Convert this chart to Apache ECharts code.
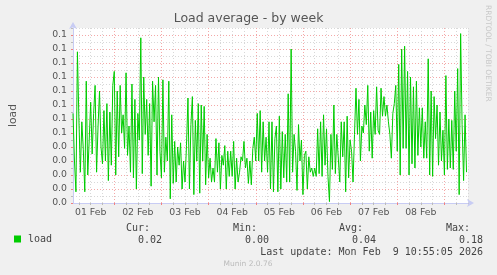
<!DOCTYPE html>
<html><head><meta charset="utf-8">
<script src="https://cdn.jsdelivr.net/npm/echarts@6/dist/echarts.min.js"></script>
<style>html,body{margin:0;padding:0;background:#f0f0f0;}#c{width:497px;height:275px;}</style>
</head><body><div id="c"></div>
<script>
// ---- data (hours are counted from 01 Feb 00:00) ----
const chartTitle = 'Load average - by week';
const seriesName = 'load';
const startHour = 3;
const endHour = 204;
const stepHours = 0.75;

const loadPart1 = [0.064,0.030,0.008,0.108,0.060,0.022,0.058,0.038,0.008,0.087,0.020,0.045,0.072,0.035,0.064,0.084,0.022,0.055,0.080,0.040,0.028,0.066,0.030,0.071,0.016,0.065,0.027,0.084,0.094,0.020,0.080,0.033,0.084,0.050,0.063,0.039,0.093,0.034,0.055,0.022,0.085,0.018,0.074,0.010,0.064];
const loadPart2 = [0.045,0.118,0.021,0.090,0.049,0.074,0.034,0.071,0.012,0.087,0.058,0.084,0.020,0.090,0.037,0.018,0.088,0.022,0.047,0.030,0.087,0.003,0.063,0.014,0.044,0.015,0.040,0.027,0.043,0.010,0.030,0.015,0.041,0.075,0.010,0.056,0.076,0.006,0.059,0.030,0.071,0.007,0.070,0.030,0.069];
const loadPart3 = [0.013,0.049,0.018,0.032,0.015,0.025,0.015,0.046,0.022,0.043,0.010,0.034,0.027,0.041,0.010,0.037,0.019,0.037,0.019,0.044,0.010,0.032,0.015,0.022,0.033,0.030,0.044,0.025,0.032,0.014,0.030,0.013,0.039,0.047,0.030,0.064,0.030,0.066,0.022,0.058,0.030,0.047,0.022,0.058,0.010];
const loadPart4 = [0.058,0.008,0.046,0.055,0.008,0.062,0.010,0.051,0.018,0.049,0.015,0.078,0.015,0.110,0.022,0.049,0.037,0.009,0.056,0.030,0.045,0.006,0.034,0.037,0.010,0.033,0.022,0.025,0.019,0.025,0.019,0.053,0.021,0.058,0.019,0.063,0.027,0.053,0.019,0.001,0.049,0.024,0.070,0.021,0.049];
const loadPart5 = [0.049,0.015,0.058,0.033,0.058,0.008,0.062,0.018,0.045,0.037,0.015,0.049,0.082,0.049,0.074,0.030,0.055,0.050,0.070,0.056,0.084,0.037,0.065,0.032,0.066,0.049,0.083,0.052,0.049,0.082,0.062,0.076,0.062,0.070,0.058,0.049,0.032,0.064,0.071,0.084,0.037,0.099,0.020,0.110,0.039];
const loadPart6 = [0.112,0.039,0.094,0.020,0.090,0.028,0.083,0.025,0.087,0.034,0.068,0.040,0.068,0.032,0.058,0.032,0.103,0.020,0.080,0.019,0.076,0.046,0.070,0.027,0.065,0.030,0.052,0.020,0.091,0.024,0.060,0.025,0.059,0.024,0.080,0.037,0.096,0.006,0.121,0.056,0.016,0.063,0.022];

const dayLabels = ['01 Feb','02 Feb','03 Feb','04 Feb','05 Feb','06 Feb','07 Feb','08 Feb'];
const yTickValues = [0,0.01,0.02,0.03,0.04,0.05,0.06,0.07,0.08,0.09,0.10,0.11,0.12];
const yTickLabels = ['0.0','0.0','0.0','0.0','0.0','0.1','0.1','0.1','0.1','0.1','0.1','0.1','0.1'];
const yMinorValues = [0.005,0.015,0.025,0.035,0.045,0.055,0.065,0.075,0.085,0.095,0.105,0.115,0.125];
const yMax = 0.125;

const legendCur = '0.02', legendMin = '0.00', legendAvg = '0.04', legendMax = '0.18';
const lastUpdate = 'Last update: Mon Feb  9 10:55:05 2026';
const footer = 'Munin 2.0.76';
const watermark = 'RRDTOOL / TOBI OETIKER';

// ---- build ----
const loadValues = [].concat(loadPart1, loadPart2, loadPart3, loadPart4, loadPart5, loadPart6);
const seriesData = loadValues.map((v, i) => [startHour + i * stepHours, v]);
const dayLabelHours = dayLabels.map((d, i) => 12 + 24 * i);
const majorHours = [], minorHours = [];
for (let h = 6; h <= endHour; h += 6) { if (h % 24 === 0) majorHours.push(h); else minorHours.push(h); }

const MAJOR = '#f4a8a8', MINOR = '#d8d8d8', AXIS = '#c8ccf4', TXT = '#555';
const FONT = 'DejaVu Sans', MONO = 'DejaVu Sans Mono';

const chart = echarts.init(document.getElementById('c'), null, {renderer: 'canvas'});
chart.setOption({
  animation: false,
  backgroundColor: '#f0f0f0',
  title: { text: chartTitle, left: 'center', top: 12, padding: 0,
    textStyle: { fontFamily: FONT, fontSize: 12.5, fontWeight: 'normal', color: TXT } },
  legend: { data: [{name: seriesName, icon: 'rect'}], left: 14, top: 234, padding: 0, itemWidth: 7, itemHeight: 7,
    textStyle: { fontFamily: MONO, fontSize: 10, color: '#444', padding: [0,0,0,2] } },
  grid: { left: 66, top: 28, width: 402, height: 175, show: true, backgroundColor: '#ffffff', borderWidth: 0 },
  xAxis: [
    { type: 'value', min: startHour, max: endHour, position: 'bottom',
      axisLine: { show: true, onZero: false, symbol: ['none','arrow'], symbolSize: [6, 7], symbolOffset: [0, 6], lineStyle: { color: AXIS, width: 1 } },
      axisTick: { show: true, customValues: majorHours, length: 2, lineStyle: { color: '#f08080' } },
      splitLine: { show: true, lineStyle: { color: MAJOR, type: [1, 2], width: 1 } },
      axisLabel: { customValues: dayLabelHours, margin: 5, fontFamily: FONT, fontSize: 9.33, color: TXT,
        formatter: v => dayLabels[Math.round((v - 12) / 24)] } },
    { type: 'value', min: startHour, max: endHour, position: 'bottom',
      axisLine: { show: false, onZero: false },
      axisTick: { show: true, customValues: minorHours, length: 2, lineStyle: { color: '#bbb' } },
      splitLine: { show: true, lineStyle: { color: MINOR, type: [1, 2], width: 1 } },
      axisLabel: { show: false } }
  ],
  yAxis: [
    { type: 'value', min: 0, max: yMax, position: 'left',
      name: seriesName, nameLocation: 'middle', nameRotate: 90, nameGap: 54,
      nameTextStyle: { fontFamily: FONT, fontSize: 10.7, color: TXT },
      axisLine: { show: true, onZero: false, symbol: ['none','arrow'], symbolSize: [6, 7], symbolOffset: [0, 6], lineStyle: { color: AXIS, width: 1 } },
      axisTick: { show: true, customValues: yTickValues, length: 2, lineStyle: { color: '#f08080' } },
      splitLine: { show: true, lineStyle: { color: MAJOR, type: [1, 2], width: 1 } },
      axisLabel: { customValues: yTickValues, margin: 6, fontFamily: FONT, fontSize: 9.33, color: TXT,
        formatter: v => yTickLabels[Math.round(v * 100)] } },
    { type: 'value', min: 0, max: yMax, position: 'left',
      axisLine: { show: false, onZero: false },
      axisTick: { show: true, customValues: yMinorValues, length: 2, lineStyle: { color: '#bbb' } },
      splitLine: { show: true, lineStyle: { color: MINOR, type: [1, 2], width: 1 } },
      axisLabel: { show: false } }
  ],
  series: [{ name: seriesName, type: 'line', xAxisIndex: 0, yAxisIndex: 0, data: seriesData,
    symbol: 'none', showSymbol: false, z: 5,
    lineStyle: { color: '#00cc00', width: 1 }, itemStyle: { color: '#00cc00' } }],
  graphic: [
    { type: 'text', x: 150, y: 228, style: { text: 'Cur:', font: '10px "DejaVu Sans Mono"', fill: '#444', textAlign: 'right', textVerticalAlign: 'middle' } },
    { type: 'text', x: 162, y: 240, style: { text: legendCur, font: '10px "DejaVu Sans Mono"', fill: '#444', textAlign: 'right', textVerticalAlign: 'middle' } },
    { type: 'text', x: 257, y: 228, style: { text: 'Min:', font: '10px "DejaVu Sans Mono"', fill: '#444', textAlign: 'right', textVerticalAlign: 'middle' } },
    { type: 'text', x: 269, y: 240, style: { text: legendMin, font: '10px "DejaVu Sans Mono"', fill: '#444', textAlign: 'right', textVerticalAlign: 'middle' } },
    { type: 'text', x: 363, y: 228, style: { text: 'Avg:', font: '10px "DejaVu Sans Mono"', fill: '#444', textAlign: 'right', textVerticalAlign: 'middle' } },
    { type: 'text', x: 376, y: 240, style: { text: legendAvg, font: '10px "DejaVu Sans Mono"', fill: '#444', textAlign: 'right', textVerticalAlign: 'middle' } },
    { type: 'text', x: 470, y: 228, style: { text: 'Max:', font: '10px "DejaVu Sans Mono"', fill: '#444', textAlign: 'right', textVerticalAlign: 'middle' } },
    { type: 'text', x: 483, y: 240, style: { text: legendMax, font: '10px "DejaVu Sans Mono"', fill: '#444', textAlign: 'right', textVerticalAlign: 'middle' } },
    { type: 'text', x: 483, y: 252, style: { text: lastUpdate, font: '10px "DejaVu Sans Mono"', fill: '#444', textAlign: 'right', textVerticalAlign: 'middle' } },
    { type: 'text', x: 248, y: 264, style: { text: footer, font: '7.5px "DejaVu Sans"', fill: '#bbb', textAlign: 'center', textVerticalAlign: 'middle' } },
    { type: 'text', x: 488, y: 5, rotation: -Math.PI / 2, style: { text: watermark, font: '7.5px "DejaVu Sans"', fill: '#c8c8c8', textAlign: 'left', textVerticalAlign: 'middle' } }
  ]
});
</script></body></html>
